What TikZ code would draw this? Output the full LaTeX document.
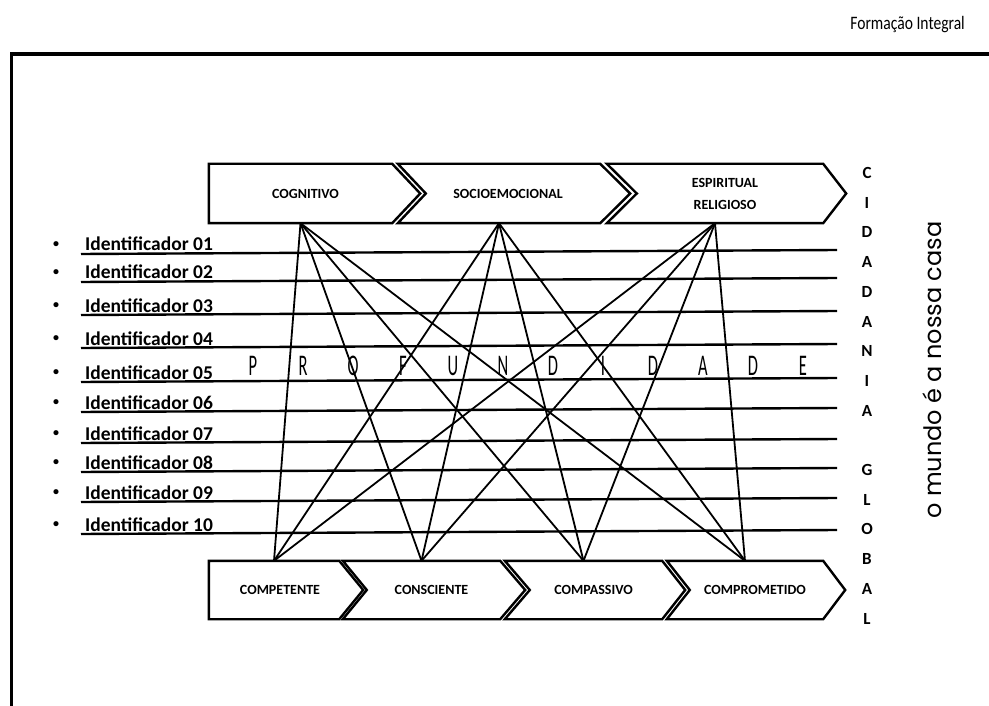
\documentclass[tikz,border=0pt]{standalone}
\usepackage{fontspec}
\setmainfont{Carlito}
\newfontfamily\condfont[FakeStretch=0.55]{Carlito}
\newfontfamily\hdrfont[FakeStretch=0.82]{Carlito}
\newfontfamily\mottofont{Poppins}

\tikzset{
  chevbody/.style={minimum height=59pt, inner sep=0pt},
  chevline/.style={line width=2.4pt, line join=miter},
  chevtext/.style={font=\bfseries\fontsize{14}{22}\selectfont, align=center, inner sep=0pt},
  link/.style={line width=1.8pt},
  rowline/.style={line width=2.4pt},
  idtext/.style={anchor=base west, inner sep=0pt, font=\bfseries\fontsize{19.5}{22}\selectfont},
  deepletter/.style={font=\condfont\fontsize{30}{32}\selectfont, inner sep=0pt},
  citizenletter/.style={font=\bfseries\fontsize{17}{19}\selectfont, inner sep=0pt}
}
\newcommand{\rowbullet}{\makebox[33pt][l]{\hspace{1pt}\raisebox{3.5pt}{\fontsize{12}{12}\selectfont •}}}

\begin{document}
\begin{tikzpicture}[x=1pt, y=-1pt]
    \useasboundingbox (0,0) rectangle (989,706);

    % Header and frame
    \node[font=\hdrfont\fontsize{19}{21}\selectfont, anchor=east, inner sep=0pt] (header) at (965,25) {Formação Integral};
    \draw[line width=3.5pt, line join=miter] (989,54) -- (11.5,54) -- (11.5,706);

    % Dimensions (top row)
    \node[chevbody, minimum width=183pt, label={[chevtext, xshift=5pt]center:COGNITIVO}] (cog) at (300.5,193.5) {};
    \node[chevbody, minimum width=202pt, label={[chevtext, xshift=9pt]center:SOCIOEMOCIONAL}] (socio) at (499,193.5) {};
    \node[chevbody, minimum width=216pt, label={[chevtext, xshift=10pt]center:{ESPIRITUAL\\RELIGIOSO}}] (esp) at (715,193.5) {};

    % Profile (bottom row)
    \node[chevbody, minimum height=58pt, minimum width=130pt, label={[chevtext, xshift=6pt]center:COMPETENTE}] (compet) at (274,590) {};
    \node[chevbody, minimum height=58pt, minimum width=157pt, label={[chevtext, xshift=10pt]center:CONSCIENTE}] (consc) at (421.5,590) {};
    \node[chevbody, minimum height=58pt, minimum width=157pt, label={[chevtext, xshift=10pt]center:COMPASSIVO}] (compas) at (583.5,590) {};
    \node[chevbody, minimum height=58pt, minimum width=156pt, label={[chevtext, xshift=10pt]center:COMPROMETIDO}] (compr) at (745,590) {};

    % Chevron outlines
    \foreach \n/\dtip/\dnotch in {cog/28/0, socio/30/28, esp/23/30, compet/24/0, consc/25/24, compas/23/25, compr/22/23}
        \draw[chevline] (\n.north west) -- (\n.north east) -- ([xshift=\dtip pt]\n.east) -- (\n.south east)
            -- (\n.south west) -- ([xshift=\dnotch pt]\n.west) -- cycle;

    % Identifier rows
    \foreach \y [count=\i] in {254,282,315,348,382,412,443,472,502,534} {
        \node[idtext] (id\i) at (52,\y-3) {\rowbullet Identificador \ifnum\i<10 0\fi\i};
        \draw[rowline] (81,\y) -- (837,\y-4);
    }

    % Links between dimensions and profile
    \foreach \a in {cog,socio,esp}
        \foreach \b in {compet,consc,compas,compr}
            \draw[link] (\a.south) -- (\b.north);

    % PROFUNDIDADE
    \foreach \l [count=\i from 0] in {P,R,O,F,U,N,D,I,D,A,D,E}
        \node[deepletter] (deep\i) at (253+50*\i,366) {\l};

    % CIDADANIA GLOBAL
    \foreach \l/\k in {C/0,I/1,D/2,A/3,D/4,A/5,N/6,I/7,A/8,G/10,L/11,O/12,B/13,A/14,L/15}
        \node[citizenletter] (cit\k) at (867,173+29.7*\k) {\l};

    \node[font=\mottofont\fontsize{24}{26}\selectfont, rotate=90, inner sep=0pt] (motto) at (932,370) {o mundo é a nossa casa};
\end{tikzpicture}
\end{document}
